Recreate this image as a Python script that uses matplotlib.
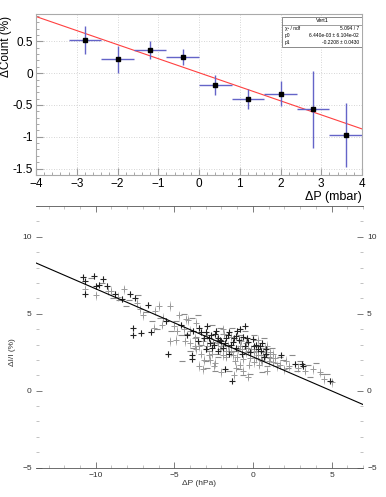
import matplotlib
matplotlib.use("Agg")
import matplotlib.pyplot as plt
from matplotlib.ticker import MultipleLocator, FuncFormatter
from matplotlib.patches import Rectangle
import numpy as np

plt.rcParams['font.family'] = ['Liberation Sans', 'DejaVu Sans']

# --- top panel: binned count change vs pressure change ---
dp_bins = [-2.8, -2.0, -1.2, -0.4, 0.4, 1.2, 2.0, 2.8, 3.6]
dp_halfwidth = [0.4, 0.4, 0.4, 0.4, 0.4, 0.4, 0.4, 0.4, 0.4]
dcount = [0.52, 0.22, 0.36, 0.25, -0.19, -0.41, -0.32, -0.57, -0.97]
dcount_err = [0.22, 0.21, 0.145, 0.125, 0.155, 0.16, 0.2, 0.6, 0.5]
fit_p0 = 6.440e-03
fit_p1 = -0.2208
stats_rows = [("\u03c7\u00b2 / ndf", "5.094 / 7"),
              ("p0", "6.440e-03 \u00b1 6.104e-02"),
              ("p1", "-0.2208 \u00b1 0.0430")]

# --- bottom panel: intensity change vs pressure change ---
dark_x = [-10.8, -10.7, -10.66, -10.1, -10.0, -9.8, -9.55, -9.3, -8.8, -8.3,
          -7.85, -7.5, -6.7, -5.5, -7.6, -7.6, -7.1, -6.5, -5.4, -4.55,
          -3.9, -3.9, -3.4, -3.0, -2.65, -2.35, -2.2, -2.0, -1.7, -1.5,
          -1.27, -1.06, -0.85, -0.53, -0.32, 0.0, 0.42, 0.85, 1.8, 2.65,
          3.1, 3.2, 4.9, -2.5, -1.8, -1.2, -0.6, 0.1, 0.6, -3.1,
          -2.9, -1.3, 0.3, 0.8, -1.8,
          -4.2, -3.8, -3.5, -3.3, -3.0, -2.8, -2.6, -2.4, -2.2, -2.1,
          -1.9, -1.6, -1.4, -1.1, -0.9, -0.7, -0.4, -0.2, 0.2, 0.5,
          0.7, -1.0, -0.5, -2.7, -1.55]
dark_y = [7.36, 7.1, 6.3, 7.47, 6.8, 6.9, 7.25, 6.8, 6.3, 5.95,
          6.3, 6.05, 5.6, 4.5, 4.05, 3.6, 3.75, 3.8, 2.4, 4.3,
          2.3, 2.05, 4.1, 3.8, 3.6, 3.9, 3.45, 3.25, 3.45, 3.8,
          3.15, 3.55, 4.0, 2.9, 3.15, 3.35, 2.9, 2.7, 2.3, 1.75,
          1.75, 1.6, 0.65, 3.0, 3.1, 3.4, 3.5, 2.9, 3.1, 3.4,
          4.2, 0.65, 2.7, 2.4, 1.4,
          3.6, 3.9, 3.2, 3.8, 2.7, 3.4, 2.8, 3.7, 2.6, 3.3,
          2.8, 3.6, 3.0, 2.8, 3.3, 2.4, 3.4, 2.5, 3.0, 2.6,
          2.2, 3.9, 4.2, 3.1, 2.4]
light_x = [-10.66, -10.0, -9.2, -9.0, -8.6, -8.2, -7.4, -7.2, -7.0, -6.2,
           -6.0, -5.7, -5.3, -5.0, -4.7, -4.25, -4.0, -3.7, -3.6, -3.2,
           -3.15, -2.9, -2.8, -2.55, -2.45, -2.1, -1.9, -1.6, -1.4, -1.17,
           -0.96, -0.74, -0.64, -0.42, -0.2, -0.1, 0.1, 0.2, 0.32, 0.64,
           0.74, 1.06, 1.27, 1.5, 2.1, 2.3, 2.85, 3.3, 3.8, 4.25,
           4.55, 5.0, -2.3, -2.0, -1.5, -1.0, -0.7, -0.3, 0.5, 1.0,
           -3.3, -2.7, -0.8, 0.4, -1.9, -4.3, -4.8, -4.1, -3.7, 1.3,
           2.0, 0.9, -1.7, 0.2,
           -4.4, -4.0, -3.6, -3.4, -3.1, -2.9, -2.6, -2.4, -2.2, -1.85,
           -1.7, -1.4, -1.25, -1.05, -0.85, -0.6, -0.45, -0.25, 0.05, 0.3,
           0.55, 0.75, 1.1, 1.4, 1.7, -5.3, -4.9, -5.8, -6.3, -2.0,
           -1.2, -3.4, -0.3, 0.9]
light_y = [6.6, 6.2, 6.5, 6.5, 6.1, 6.6, 5.7, 5.3, 4.9, 5.2,
           5.5, 4.75, 5.5, 4.2, 4.9, 4.65, 3.9, 3.45, 2.7, 3.25,
           1.4, 2.9, 2.3, 3.15, 1.6, 2.7, 2.3, 2.9, 2.5, 1.95,
           2.7, 3.25, 2.05, 2.5, 2.15, 2.7, 1.85, 2.6, 2.3, 2.5,
           2.3, 2.15, 1.85, 1.6, 1.95, 1.6, 1.5, 1.3, 1.4, 1.2,
           0.75, 0.55, 3.3, 2.9, 2.6, 2.2, 2.7, 2.6, 2.0, 1.9,
           2.4, 2.0, 1.7, 1.7, 4.0, 3.2, 3.9, 4.6, 2.9, 2.4,
           1.4, 2.9, 2.2, 2.1,
           4.0, 3.1, 4.4, 2.9, 2.0, 3.6, 2.4, 1.8, 3.1, 3.7,
           2.6, 3.5, 2.3, 1.5, 2.9, 1.3, 3.1, 1.7, 2.5, 3.3,
           1.9, 2.8, 2.5, 2.1, 1.7, 3.2, 3.3, 4.3, 4.1, 1.2,
           1.0, 1.6, 0.9, 1.3]
dash_x = [-10.3, -9.6, -8.9, -8.5, -7.9, -7.3, -6.8, -6.4, -5.9, -5.2,
          -4.9, -4.4, -4.2, -3.8, -3.5, -3.0, -2.6, -2.2, -1.9, -1.5,
          -1.1, -0.9, -0.5, -0.2, 0.2, 0.5, 0.9, 1.2, 1.7, 2.2,
          2.5, 3.0, 3.5, 4.0, 4.4, 4.7, -3.3, -2.4, -1.3, -0.6,
          0.7, 1.5, -4.6, -6.1, -8.1, 3.6,
          -4.0, -3.6, -2.8, -2.3, -1.75, -1.2, -0.8, -0.35, 0.1, 0.45,
          -2.1, -3.9, 1.0, 1.9, 2.8, -4.5, -2.9, 0.6]
dash_y = [7.3, 7.0, 6.0, 5.9, 5.9, 6.2, 5.1, 4.5, 4.7, 3.9,
          4.5, 5.0, 3.7, 2.8, 4.9, 1.9, 4.3, 2.2, 3.7, 1.3,
          2.6, 1.4, 3.9, 1.1, 3.3, 2.9, 1.6, 2.8, 2.2, 1.5,
          2.3, 1.9, 1.7, 1.8, 1.1, 1.1, 3.0, 1.3, 4.1, 1.0,
          3.4, 1.8, 3.6, 4.0, 5.5, 0.9,
          2.6, 3.5, 2.6, 2.4, 3.0, 2.6, 3.6, 2.8, 3.6, 2.3,
          4.1, 4.7, 2.2, 2.0, 1.3, 1.9, 1.5, 1.2]
point_err = 0.3
line_slope = -0.442
line_intercept = 2.2

fig = plt.figure(figsize=(3.86, 4.97), dpi=100)

# ---------------- top ----------------
ax1 = fig.add_axes([0.0933, 0.648, 0.8446, 0.3239])
ax1.set_xlim(-4, 4)
ax1.set_ylim(-1.6, 0.93)
ax1.grid(True, which="major", color="#c8c8c8", linestyle=(0, (1, 2)), linewidth=0.6)
ax1.errorbar(dp_bins, dcount, xerr=dp_halfwidth, yerr=dcount_err, fmt="s",
             ms=2.5, color="black", ecolor="#6464c8", elinewidth=1.0, capsize=0, zorder=3)
xf = np.array([-4, 4])
ax1.plot(xf, fit_p0 + fit_p1 * xf, color="#ff4040", lw=0.8, zorder=2)
ax1.xaxis.set_major_locator(MultipleLocator(1))
ax1.xaxis.set_minor_locator(MultipleLocator(0.2))
ax1.yaxis.set_major_locator(MultipleLocator(0.5))
ax1.yaxis.set_minor_locator(MultipleLocator(0.1))
ax1.yaxis.set_major_formatter(FuncFormatter(lambda v, p: "%g" % round(v, 2)))
ax1.tick_params(which="both", direction="in", color="#999999", labelsize=8.5, pad=2)
ax1.tick_params(which="major", length=5)
ax1.tick_params(which="minor", length=2.5)
for s in ax1.spines.values():
    s.set_color("#aaaaaa")
    s.set_linewidth(0.8)
ax1.set_xlabel("\u0394P (mbar)", fontsize=9, labelpad=0)
ax1.xaxis.set_label_coords(1.0, -0.1)
ax1.xaxis.label.set_ha("right")
ax1.set_ylabel("\u0394Count (%)", fontsize=8.5)
ax1.yaxis.set_label_coords(-0.075, 0.8)

# stats box
bx, by, bw, bh = 0.754, 0.797, 0.246, 0.183
ax1.add_patch(Rectangle((bx, by), bw, bh, transform=ax1.transAxes, facecolor="white",
                        edgecolor="#777777", lw=0.6, zorder=5))
ax1.plot([bx, bx + bw], [by + bh * 0.75] * 2, transform=ax1.transAxes, color="#777777", lw=0.5, zorder=6)
ax1.text(bx + bw / 2, by + bh * 0.875, "Vert1", transform=ax1.transAxes, fontsize=4,
         ha="center", va="center", zorder=7)
for i, (name, val) in enumerate(stats_rows):
    yy = by + bh * (0.625 - i * 0.25)
    ax1.text(bx + 0.01, yy, name, transform=ax1.transAxes, fontsize=3.5, ha="left", va="center", zorder=7)
    ax1.text(bx + bw - 0.01, yy, val, transform=ax1.transAxes, fontsize=3.5, ha="right", va="center", zorder=7)

# ---------------- bottom ----------------
ax2 = fig.add_axes([0.0933, 0.059, 0.847, 0.5265])
ax2.set_xlim(-13.8, 7)
ax2.set_ylim(-5, 12)
ax2.errorbar(light_x, light_y, yerr=point_err, fmt="+", ms=4, mew=0.7, color="#9a9a9a",
             ecolor="#c4c4c4", elinewidth=0.6, capsize=0, zorder=2)
ax2.plot(dash_x, dash_y, "_", ms=4, mew=0.8, color="#8a8a8a", zorder=2)
ax2.errorbar(dark_x, dark_y, yerr=point_err * 0.6, fmt="+", ms=4, mew=0.8, color="#222222",
             ecolor="#777777", elinewidth=0.6, capsize=0, zorder=3)
xl = np.array([-13.8, 7])
ax2.plot(xl, line_intercept + line_slope * xl, color="black", lw=0.8, zorder=4)

ax2.xaxis.set_major_locator(MultipleLocator(5))
ax2.xaxis.set_minor_locator(MultipleLocator(1))
ax2.yaxis.set_major_locator(MultipleLocator(5))
ax2.yaxis.set_minor_locator(MultipleLocator(1))
ax2.tick_params(which="both", direction="in", top=True, right=True, labelright=True,
                labelsize=6, labelcolor="#333333", color="#666666", pad=3)
ax2.tick_params(which="major", length=4, width=0.6)
ax2.tick_params(which="minor", length=2, width=0.5, color="#aaaaaa")
ax2.spines["left"].set_visible(False)
ax2.spines["right"].set_visible(False)
for side in ("top", "bottom"):
    ax2.spines[side].set_color("#555555")
    ax2.spines[side].set_linewidth(0.6)
ax2.set_xlabel("\u0394P (hPa)", fontsize=6, color="#333333", labelpad=1)
ax2.set_ylabel("\u0394I/I (%)", fontsize=6, color="#333333")
ax2.yaxis.set_label_coords(-0.06, 0.44)

fig.savefig("out.png", dpi=100)
